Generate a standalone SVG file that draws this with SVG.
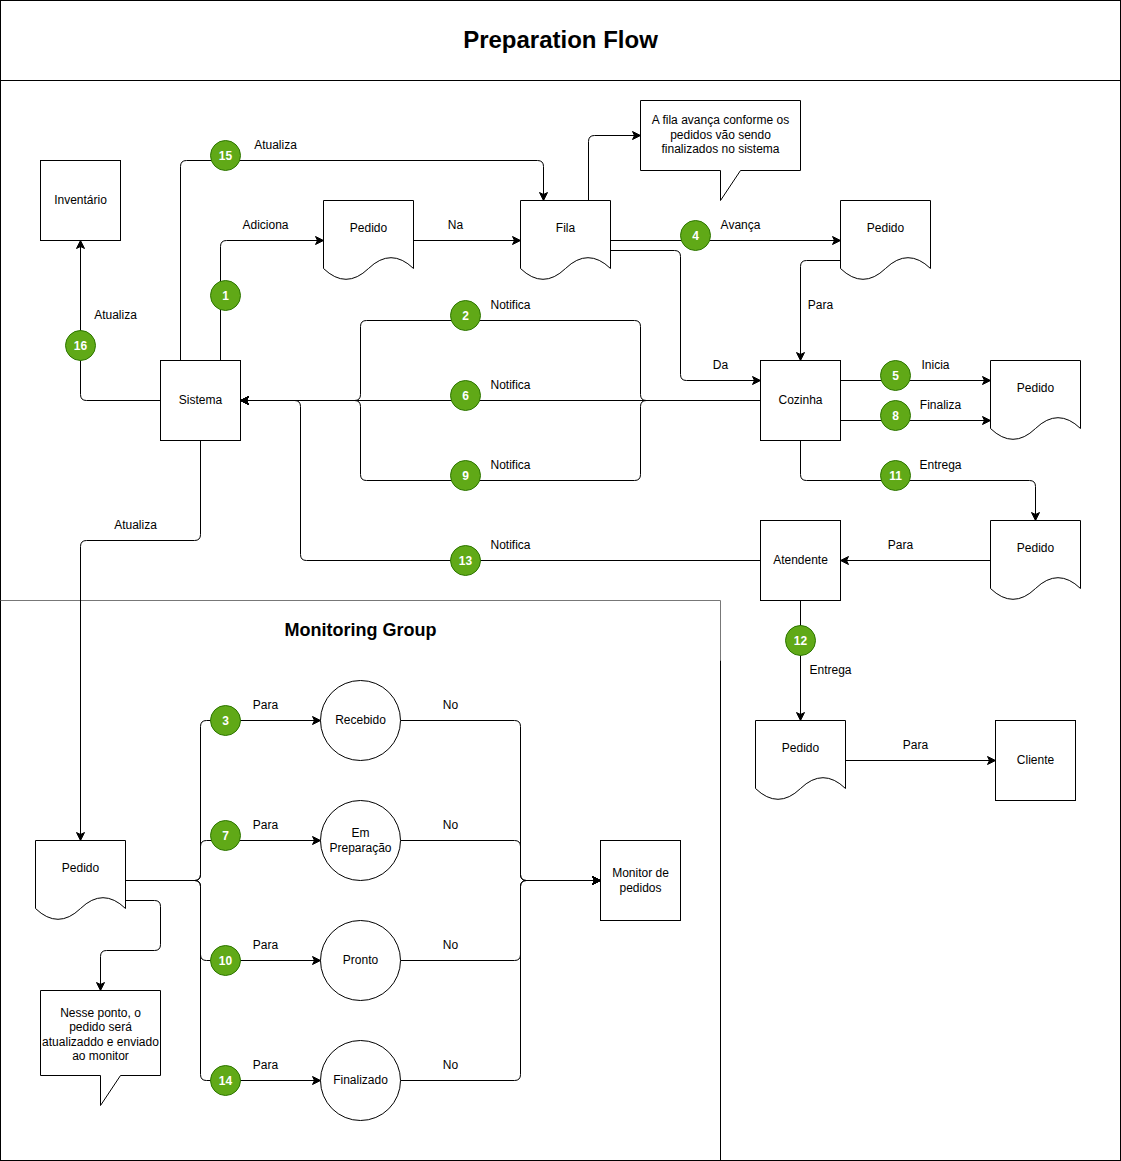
<svg xmlns="http://www.w3.org/2000/svg" width="1121" height="1161" viewBox="0 0 1121 1161">
  <style>
    .box { fill: #fff; stroke: #000; stroke-width: 1; }
    .doc { fill: #fff; stroke: #000; stroke-width: 1; }
    .edge { fill: none; stroke: #000; stroke-width: 1; }
    .arrow { marker-end: url(#arr); }
    .t { font-family: "Liberation Sans", Arial, Helvetica, sans-serif; font-size: 12px; fill: #000; text-anchor: middle; }
    .lbl { font-family: "Liberation Sans", Arial, Helvetica, sans-serif; font-size: 12px; fill: #000; text-anchor: middle; }
    .step circle { fill: #60a917; stroke: #2d7600; stroke-width: 1; }
    .step text { font-family: "Liberation Sans", Arial, Helvetica, sans-serif; font-size: 12px; font-weight: bold; fill: #fff; text-anchor: middle; }
    .title { font-family: "Liberation Sans", Arial, Helvetica, sans-serif; font-weight: bold; fill: #000; text-anchor: middle; }
  </style>
  <defs>
    <marker id="arr" viewBox="-9 -5 10 10" refX="0" refY="0" markerWidth="10" markerHeight="10" markerUnits="userSpaceOnUse" orient="auto">
      <path d="M0,0 L-8,-4 L-6,0 L-8,4 Z" fill="#000" stroke="#000" stroke-width="1" stroke-linejoin="miter"/>
    </marker>
  </defs>

  <rect x="0" y="0" width="1121" height="1161" fill="#fff"/>

  <g transform="translate(0.5,0.5)">
    <!-- outer pool with title band -->
    <g id="pool">
      <rect x="0" y="0" width="1120" height="1160" fill="none" stroke="#000"/>
      <line x1="0" y1="80" x2="1120" y2="80" stroke="#000"/>
      <text class="title" x="560" y="47.5" font-size="24">Preparation Flow</text>
    </g>

    <!-- monitoring container -->
    <g id="monitoring-group">
      <path d="M0,600 L720,600 L720,660" fill="none" stroke="#777"/>
      <path d="M720,660 L720,1160" fill="none" stroke="#000"/>
      <text class="title" x="360" y="635.5" font-size="18">Monitoring Group</text>
    </g>

    <!-- connectors -->
    <g id="connectors">
      <path class="edge arrow" d="M180,360 L180,166 Q180,160 186,160 L537,160 Q543,160 543,166 L543,200"/>
      <path class="edge arrow" d="M220,360 L220,246 Q220,240 226,240 L323,240"/>
      <path class="edge arrow" d="M413,240 L520,240"/>
      <path class="edge arrow" d="M588,200 L588,141 Q588,135 594,135 L640,135"/>
      <path class="edge arrow" d="M610,240 L840,240"/>
      <path class="edge arrow" d="M610,250 L674,250 Q680,250 680,256 L680,374 Q680,380 686,380 L760,380"/>
      <path class="edge arrow" d="M840,260 L806,260 Q800,260 800,266 L800,360"/>
      <path class="edge arrow" d="M840,380 L990,380"/>
      <path class="edge arrow" d="M840,420 L990,420"/>
      <path class="edge arrow" d="M800,440 L800,474 Q800,480 806,480 L1029,480 Q1035,480 1035,486 L1035,520"/>
      <path class="edge arrow" d="M760,400 L240,400"/>
      <path class="edge arrow" d="M760,400 L646,400 Q640,400 640,394 L640,326 Q640,320 634,320 L366,320 Q360,320 360,326 L360,394 Q360,400 354,400 L240,400"/>
      <path class="edge arrow" d="M760,400 L646,400 Q640,400 640,406 L640,474 Q640,480 634,480 L366,480 Q360,480 360,474 L360,406 Q360,400 354,400 L240,400"/>
      <path class="edge arrow" d="M760,560 L306,560 Q300,560 300,554 L300,406 Q300,400 294,400 L240,400"/>
      <path class="edge arrow" d="M160,400 L86,400 Q80,400 80,394 L80,240"/>
      <path class="edge arrow" d="M200,440 L200,534 Q200,540 194,540 L86,540 Q80,540 80,546 L80,840"/>
      <path class="edge arrow" d="M990,560 L840,560"/>
      <path class="edge arrow" d="M800,600 L800,720"/>
      <path class="edge arrow" d="M845,760 L995,760"/>

      <path class="edge arrow" d="M125,880 L194,880 Q200,880 200,874 L200,726 Q200,720 206,720 L320,720"/>
      <path class="edge arrow" d="M125,880 L194,880 Q200,880 200,874 L200,846 Q200,840 206,840 L320,840"/>
      <path class="edge arrow" d="M125,880 L194,880 Q200,880 200,886 L200,954 Q200,960 206,960 L320,960"/>
      <path class="edge arrow" d="M125,880 L194,880 Q200,880 200,886 L200,1074 Q200,1080 206,1080 L320,1080"/>
      <path class="edge arrow" d="M400,720 L514,720 Q520,720 520,726 L520,874 Q520,880 526,880 L600,880"/>
      <path class="edge arrow" d="M400,840 L514,840 Q520,840 520,846 L520,874 Q520,880 526,880 L600,880"/>
      <path class="edge arrow" d="M400,960 L514,960 Q520,960 520,954 L520,886 Q520,880 526,880 L600,880"/>
      <path class="edge arrow" d="M400,1080 L514,1080 Q520,1080 520,1074 L520,886 Q520,880 526,880 L600,880"/>
      <path class="edge arrow" d="M125,900 L154,900 Q160,900 160,906 L160,944 Q160,950 154,950 L106,950 Q100,950 100,956 L100,990"/>

      <!-- connector labels -->
      <text class="lbl" x="275" y="148.5">Atualiza</text>
      <text class="lbl" x="265" y="228.5">Adiciona</text>
      <text class="lbl" x="455" y="228.5">Na</text>
      <text class="lbl" x="740" y="228.5">Avança</text>
      <text class="lbl" x="720" y="368.5">Da</text>
      <text class="lbl" x="820" y="308.5">Para</text>
      <text class="lbl" x="935" y="368.5">Inicia</text>
      <text class="lbl" x="940" y="408.5">Finaliza</text>
      <text class="lbl" x="940" y="468.5">Entrega</text>
      <text class="lbl" x="510" y="308.5">Notifica</text>
      <text class="lbl" x="510" y="388.5">Notifica</text>
      <text class="lbl" x="510" y="468.5">Notifica</text>
      <text class="lbl" x="510" y="548.5">Notifica</text>
      <text class="lbl" x="115" y="318.5">Atualiza</text>
      <text class="lbl" x="135" y="528.5">Atualiza</text>
      <text class="lbl" x="900" y="548.5">Para</text>
      <text class="lbl" x="830" y="673.5">Entrega</text>
      <text class="lbl" x="915" y="748.5">Para</text>
      <text class="lbl" x="265" y="708.5">Para</text>
      <text class="lbl" x="265" y="828.5">Para</text>
      <text class="lbl" x="265" y="948.5">Para</text>
      <text class="lbl" x="265" y="1068.5">Para</text>
      <text class="lbl" x="450" y="708.5">No</text>
      <text class="lbl" x="450" y="828.5">No</text>
      <text class="lbl" x="450" y="948.5">No</text>
      <text class="lbl" x="450" y="1068.5">No</text>
    </g>

    <!-- step markers -->
    <g id="steps">
      <g class="step"><circle cx="225" cy="155" r="15"/><text x="225" y="159.5">15</text></g>
      <g class="step"><circle cx="225" cy="295" r="15"/><text x="225" y="299.5">1</text></g>
      <g class="step"><circle cx="80" cy="345" r="15"/><text x="80" y="349.5">16</text></g>
      <g class="step"><circle cx="465" cy="315" r="15"/><text x="465" y="319.5">2</text></g>
      <g class="step"><circle cx="465" cy="395" r="15"/><text x="465" y="399.5">6</text></g>
      <g class="step"><circle cx="465" cy="475" r="15"/><text x="465" y="479.5">9</text></g>
      <g class="step"><circle cx="695" cy="235" r="15"/><text x="695" y="239.5">4</text></g>
      <g class="step"><circle cx="895" cy="375" r="15"/><text x="895" y="379.5">5</text></g>
      <g class="step"><circle cx="895" cy="415" r="15"/><text x="895" y="419.5">8</text></g>
      <g class="step"><circle cx="895" cy="475" r="15"/><text x="895" y="479.5">11</text></g>
      <g class="step"><circle cx="465" cy="560" r="15"/><text x="465" y="564.5">13</text></g>
      <g class="step"><circle cx="800" cy="640" r="15"/><text x="800" y="644.5">12</text></g>
      <g class="step"><circle cx="225" cy="720" r="15"/><text x="225" y="724.5">3</text></g>
      <g class="step"><circle cx="225" cy="835" r="15"/><text x="225" y="839.5">7</text></g>
      <g class="step"><circle cx="225" cy="960" r="15"/><text x="225" y="964.5">10</text></g>
      <g class="step"><circle cx="225" cy="1080" r="15"/><text x="225" y="1084.5">14</text></g>
    </g>

    <!-- nodes -->
    <g id="inventario"><rect class="box" x="40" y="160" width="80" height="80"/><text class="t" x="80" y="203.5">Inventário</text></g>
    <g id="sistema"><rect class="box" x="160" y="360" width="80" height="80"/><text class="t" x="200" y="403.5">Sistema</text></g>
    <g id="pedido-novo"><path class="doc" d="M323,200 L413,200 L413,268 Q390.5,246.4 368,268 Q345.5,289.6 323,268 Z"/><text class="t" x="368" y="231.5">Pedido</text></g>
    <g id="fila"><path class="doc" d="M520,200 L610,200 L610,268 Q587.5,246.4 565,268 Q542.5,289.6 520,268 Z"/><text class="t" x="565" y="231.5">Fila</text></g>
    <g id="nota-fila"><path class="box" d="M640,100 L800,100 L800,170 L740,170 L720,200 L720,170 L640,170 Z"/>
      <text class="t" x="720" y="123.5">A fila avança conforme os</text>
      <text class="t" x="720" y="138">pedidos vão sendo</text>
      <text class="t" x="720" y="152.5">finalizados no sistema</text>
    </g>
    <g id="pedido-fila"><path class="doc" d="M840,200 L930,200 L930,268 Q907.5,246.4 885,268 Q862.5,289.6 840,268 Z"/><text class="t" x="885" y="231.5">Pedido</text></g>
    <g id="cozinha"><rect class="box" x="760" y="360" width="80" height="80"/><text class="t" x="800" y="403.5">Cozinha</text></g>
    <g id="pedido-cozinha"><path class="doc" d="M990,360 L1080,360 L1080,428 Q1057.5,406.4 1035,428 Q1012.5,449.6 990,428 Z"/><text class="t" x="1035" y="391.5">Pedido</text></g>
    <g id="pedido-pronto"><path class="doc" d="M990,520 L1080,520 L1080,588 Q1057.5,566.4 1035,588 Q1012.5,609.6 990,588 Z"/><text class="t" x="1035" y="551.5">Pedido</text></g>
    <g id="atendente"><rect class="box" x="760" y="520" width="80" height="80"/><text class="t" x="800" y="563.5">Atendente</text></g>
    <g id="pedido-entrega"><path class="doc" d="M755,720 L845,720 L845,788 Q822.5,766.4 800,788 Q777.5,809.6 755,788 Z"/><text class="t" x="800" y="751.5">Pedido</text></g>
    <g id="cliente"><rect class="box" x="995" y="720" width="80" height="80"/><text class="t" x="1035" y="763.5">Cliente</text></g>

    <g id="pedido-monitor"><path class="doc" d="M35,840 L125,840 L125,908 Q102.5,886.4 80,908 Q57.5,929.6 35,908 Z"/><text class="t" x="80" y="871.5">Pedido</text></g>
    <g id="nota-monitor"><path class="box" d="M40,990 L160,990 L160,1075 L120,1075 L100,1105 L100,1075 L40,1075 Z"/>
      <text class="t" x="100" y="1016.5">Nesse ponto, o</text>
      <text class="t" x="100" y="1030.5">pedido será</text>
      <text class="t" x="100" y="1045">atualizaddo e enviado</text>
      <text class="t" x="100" y="1059">ao monitor</text>
    </g>
    <g id="recebido"><circle class="box" cx="360" cy="720" r="40"/><text class="t" x="360" y="723.5">Recebido</text></g>
    <g id="em-preparacao"><circle class="box" cx="360" cy="840" r="40"/><text class="t" x="360" y="836.5">Em</text><text class="t" x="360" y="851">Preparação</text></g>
    <g id="pronto"><circle class="box" cx="360" cy="960" r="40"/><text class="t" x="360" y="963.5">Pronto</text></g>
    <g id="finalizado"><circle class="box" cx="360" cy="1080" r="40"/><text class="t" x="360" y="1083.5">Finalizado</text></g>
    <g id="monitor-pedidos"><rect class="box" x="600" y="840" width="80" height="80"/><text class="t" x="640" y="876.5">Monitor de</text><text class="t" x="640" y="891">pedidos</text></g>
  </g>
</svg>
